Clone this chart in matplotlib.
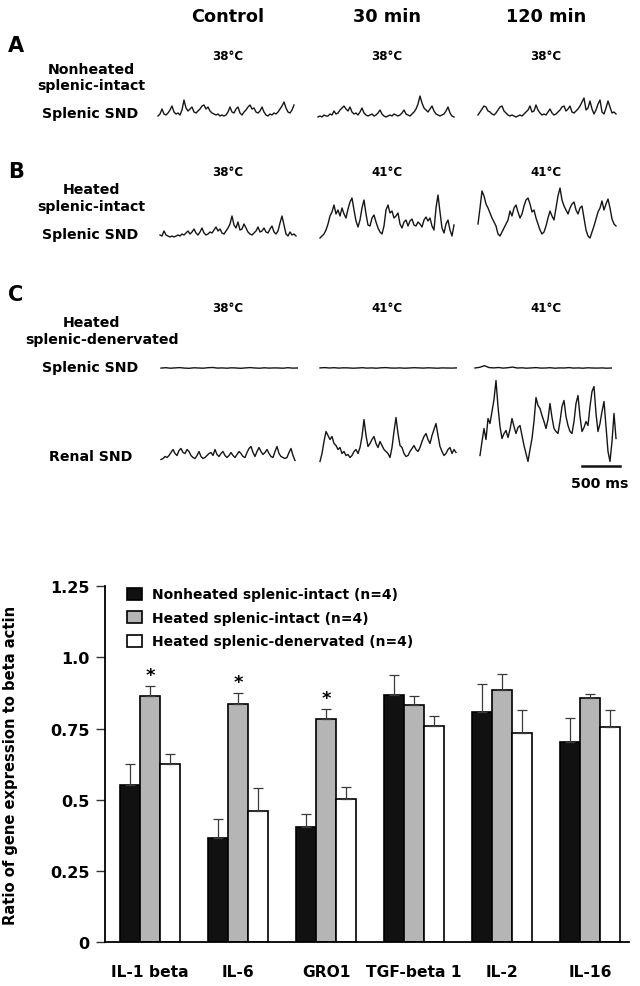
import numpy as np
import matplotlib
matplotlib.use("Agg")
import matplotlib.pyplot as plt
from matplotlib.patches import Patch
from matplotlib.lines import Line2D

plt.rcParams['font.family'] = ['DejaVu Sans']
plt.rcParams['font.weight'] = 'bold'

# ---- bar chart data ----
genes = ["IL-1 beta", "IL-6", "GRO1", "TGF-beta 1", "IL-2", "IL-16"]
groups = ["Nonheated splenic-intact (n=4)",
          "Heated splenic-intact (n=4)",
          "Heated splenic-denervated (n=4)"]
nonheated_mean = [0.551, 0.367, 0.403, 0.867, 0.807, 0.704]
nonheated_sem = [0.076, 0.067, 0.048, 0.071, 0.100, 0.083]
heated_mean = [0.865, 0.838, 0.782, 0.834, 0.884, 0.858]
heated_sem = [0.035, 0.037, 0.036, 0.030, 0.059, 0.014]
denerv_mean = [0.625, 0.460, 0.502, 0.759, 0.736, 0.755]
denerv_sem = [0.036, 0.081, 0.044, 0.036, 0.078, 0.059]
significant = [True, True, True, False, False, False]
yticks = [0, 0.25, 0.5, 0.75, 1.0, 1.25]
ytick_labels = ["0", "0.25", "0.5", "0.75", "1.0", "1.25"]

# ---- nerve traces (height above baseline, read every ~2 px) ----
columns = ["Control", "30 min", "120 min"]
temps_a = ["38°C", "38°C", "38°C"]
temps_b = ["38°C", "41°C", "41°C"]
temps_c = ["38°C", "41°C", "41°C"]

a_control = [2, 4, 9, 4, 3, 5, 8, 12, 6, 4, 5, 3, 8, 18, 10, 7, 9, 11, 6, 5, 7, 9, 12, 13, 9, 11, 7, 5, 4, 3,
             4, 2, 3, 2, 3, 6, 11, 6, 5, 9, 11, 5, 3, 6, 8, 11, 13, 9, 10, 6, 5, 7, 11, 6, 3, 2, 4, 3, 5, 4,
             6, 9, 12, 16, 10, 6, 5, 8, 13]
a_30 = [1, 2, 1, 3, 2, 2, 4, 3, 7, 4, 5, 8, 10, 12, 9, 7, 11, 6, 4, 5, 3, 6, 10, 5, 3, 2, 3, 4, 2, 3,
        5, 8, 4, 2, 1, 2, 3, 2, 4, 3, 2, 3, 5, 8, 4, 3, 2, 4, 6, 9, 14, 22, 15, 10, 8, 6, 9, 12, 7, 4,
        3, 2, 3, 4, 7, 11, 5, 2, 1]
a_120 = [3, 6, 9, 12, 11, 7, 6, 4, 3, 5, 8, 11, 12, 7, 5, 3, 2, 3, 2, 1, 2, 3, 2, 4, 6, 8, 12, 6, 7, 13,
         8, 5, 3, 4, 3, 6, 9, 5, 3, 4, 6, 8, 11, 12, 7, 9, 12, 6, 5, 7, 9, 12, 16, 20, 8, 10, 17, 9, 4, 8,
         14, 18, 6, 4, 10, 17, 11, 5, 6, 4]

b_control = [3, 2, 7, 3, 2, 1, 2, 1, 2, 3, 2, 4, 3, 5, 7, 4, 6, 9, 5, 3, 6, 10, 5, 3, 4, 6, 5, 8, 11, 7,
             9, 5, 4, 7, 10, 14, 22, 13, 10, 16, 8, 9, 14, 10, 6, 4, 3, 5, 7, 11, 6, 7, 10, 6, 5, 9, 12, 6, 4, 7,
             15, 22, 13, 4, 2, 6, 3, 4, 2]
b_30 = [0, 2, 4, 8, 14, 22, 26, 33, 24, 28, 22, 30, 24, 20, 29, 36, 40, 28, 17, 11, 18, 30, 38, 24, 13, 12,
        20, 23, 16, 10, 6, 4, 12, 28, 33, 25, 27, 20, 22, 25, 14, 10, 16, 18, 12, 17, 19, 13, 12, 16, 14, 11,
        18, 21, 17, 20, 12, 8, 30, 43, 26, 10, 5, 14, 18, 8, 2, 13]
b_120 = [14, 30, 47, 42, 34, 30, 25, 20, 16, 12, 4, 2, 6, 10, 14, 18, 27, 22, 30, 33, 26, 20, 24, 32, 38,
         40, 34, 26, 28, 20, 14, 8, 4, 6, 12, 20, 27, 22, 18, 30, 42, 50, 38, 32, 28, 24, 30, 34, 36, 28,
         24, 30, 32, 20, 8, 2, 0, 6, 12, 19, 26, 30, 37, 28, 34, 39, 30, 19, 14, 12]

c_spl_control = [0.4, 0.8, 0.3, 0.6, 0.9, 0.4, 0.2, 0.7, 0.5, 0.3, 0.8, 1.0, 0.4, 0.6, 0.3, 0.7, 0.5,
                 0.2, 0.6, 0.9, 0.5, 0.3, 0.7, 0.4, 0.6, 0.5, 0.3, 0.8, 0.4, 0.5]
c_spl_30 = [0.6, 0.9, 0.5, 0.8, 0.4, 0.7, 0.6, 0.3, 0.5, 0.8, 0.4, 0.6, 0.3, 0.7, 0.9, 0.5, 0.4, 0.6,
            0.3, 0.5, 0.8, 0.6, 0.4, 0.7, 0.5, 0.3, 0.6, 0.5, 0.4, 0.6]
c_spl_120 = [0.5, 1.2, 2.8, 0.9, 0.6, 1.0, 0.4, 0.8, 1.4, 0.5, 0.7, 0.3, 0.6, 0.9, 0.4, 0.5, 0.8, 0.3,
             0.6, 0.5, 0.9, 0.4, 0.6, 0.3, 0.7, 0.5, 0.4, 0.6, 0.3, 0.5]

c_ren_control = [2, 3, 5, 4, 6, 9, 12, 8, 6, 11, 13, 9, 8, 12, 10, 6, 4, 3, 6, 10, 5, 3, 4, 6, 8, 9, 6, 12,
                 7, 5, 8, 10, 6, 4, 6, 9, 6, 4, 7, 10, 8, 5, 4, 9, 13, 15, 9, 5, 10, 14, 10, 7, 9, 12, 8, 5,
                 4, 10, 15, 8, 5, 4, 3, 4, 9, 13, 6, 1]
c_ren_30 = [0, 8, 20, 30, 26, 22, 25, 18, 16, 12, 14, 8, 10, 6, 7, 4, 6, 10, 12, 8, 14, 25, 42, 26, 15, 18,
            22, 25, 18, 14, 20, 16, 12, 10, 8, 4, 14, 30, 44, 28, 16, 14, 8, 5, 6, 10, 13, 16, 12, 10, 14,
            20, 25, 28, 22, 18, 26, 32, 38, 26, 15, 10, 6, 8, 12, 14, 8, 12, 9]
c_ren_120 = [6, 20, 33, 22, 43, 38, 50, 62, 81, 55, 35, 23, 28, 31, 24, 32, 43, 35, 28, 34, 36, 26, 16, 8,
             0, 12, 23, 40, 64, 56, 53, 46, 40, 33, 42, 58, 44, 33, 30, 28, 40, 55, 61, 45, 36, 30, 28, 40,
             58, 66, 45, 30, 34, 40, 36, 55, 70, 75, 48, 30, 38, 50, 60, 35, 10, 0, 20, 48, 23]

W, H = 640, 987
fig = plt.figure(figsize=(6.4, 9.87), dpi=100)


def fx(px):
    return px / W


def fy(py):
    return 1 - py / H


def label(x, y, s, size, **kw):
    fig.text(fx(x), fy(y), s, ha='center', va='center', fontsize=size, fontweight='bold', **kw)


def trace(x0, base, vals, step=2.0, span=90):
    """Small frameless axes, 1 data unit = 1 pixel."""
    n = len(vals)
    width = step * (n - 1)
    ax = fig.add_axes([fx(x0), fy(base), width / W, span / H])
    ax.plot(np.arange(n), vals, color='#151515', lw=1.0, clip_on=False)
    ax.set_xlim(0, n - 1)
    ax.set_ylim(0, span)
    ax.axis('off')
    return ax


# ---- top panels ----
col_x = [228, 387, 546]
for cx, name in zip(col_x, columns):
    label(cx, 17, name, 12.7)

label(16, 46, "A", 15)
label(16, 172, "B", 15)
label(16, 295, "C", 15)

for cx, t in zip(col_x, temps_a):
    label(cx, 56, t, 8.6)
for cx, t in zip(col_x, temps_b):
    label(cx, 173, t, 8.6)
for cx, t in zip(col_x, temps_c):
    label(cx, 308, t, 8.6)

label(91, 70, "Nonheated", 10.2)
label(91, 86, "splenic-intact", 10.2)
label(90, 114, "Splenic SND", 10.2)
label(91, 190, "Heated", 10.2)
label(91, 207, "splenic-intact", 10.2)
label(90, 235, "Splenic SND", 10.2)
label(91, 323, "Heated", 10.2)
label(102, 340, "splenic-denervated", 10.2)
label(90, 368, "Splenic SND", 10.2)
label(91, 457, "Renal SND", 10.2)

trace(158, 119, a_control)
trace(318, 119, a_30)
trace(478, 119, a_120)

trace(160, 239, b_control)
trace(320, 239, b_30)
trace(478, 239, b_120)

trace(161, 369.5, c_spl_control, step=4.7)
trace(320, 369.5, c_spl_30, step=4.7)
trace(475, 369.5, c_spl_120, step=4.7)

trace(161, 462.5, c_ren_control)
trace(320, 462.5, c_ren_30)
trace(480, 462.5, c_ren_120)

fig.add_artist(Line2D([fx(582), fx(620)], [fy(467), fy(467)], color='#111111', lw=1.8))
label(600, 484, "500 ms", 10.2)

# ---- bar chart ----
ax = fig.add_axes([fx(105.3), fy(943), (629 - 105.3) / W, (943 - 587.3) / H])
x = np.arange(len(genes))
w = 0.2275
err_kw = dict(fmt='none', ecolor='#3a3a3a', elinewidth=0.9, capsize=3.8, capthick=0.9)
ax.bar(x - w, nonheated_mean, w, color='#111111', edgecolor='black', linewidth=1.2)
ax.bar(x, heated_mean, w, color='#b5b5b5', edgecolor='black', linewidth=1.2)
ax.bar(x + w, denerv_mean, w, color='white', edgecolor='black', linewidth=1.2)
ax.errorbar(x - w, nonheated_mean, yerr=[np.zeros(6), nonheated_sem], **err_kw)
ax.errorbar(x, heated_mean, yerr=[np.zeros(6), heated_sem], **err_kw)
ax.errorbar(x + w, denerv_mean, yerr=[np.zeros(6), denerv_sem], **err_kw)

for i, sig in enumerate(significant):
    if sig:
        ax.text(x[i], heated_mean[i] + heated_sem[i] + 0.008, "*", ha='center', va='bottom',
                fontsize=13, fontweight='bold')

ax.set_xlim(-0.51, 5.44)
ax.set_ylim(0, 1.25)
ax.set_yticks(yticks)
ax.set_yticklabels(ytick_labels, fontsize=11.5, fontweight='bold')
ax.set_xticks(x)
ax.set_xticklabels(genes, fontsize=11.2, fontweight='bold')
ax.tick_params(axis='x', length=0, pad=16)
ax.tick_params(axis='y', length=6.5, width=1.0, pad=5, color='#333333')
for side in ['top', 'right']:
    ax.spines[side].set_visible(False)
ax.spines['left'].set_linewidth(1.3)
ax.spines['bottom'].set_linewidth(1.3)
ax.set_ylabel("Ratio of gene expression to beta actin", fontsize=10.6, fontweight='bold')
ax.yaxis.set_label_coords(-0.167, 0.5)

handles = [Patch(facecolor='#111111', edgecolor='black', linewidth=1.2),
           Patch(facecolor='#b5b5b5', edgecolor='black', linewidth=1.2),
           Patch(facecolor='white', edgecolor='black', linewidth=1.2)]
leg = ax.legend(handles, groups, loc='upper left', bbox_to_anchor=(fx(126.5), fy(588.5)),
                bbox_transform=fig.transFigure, frameon=False, fontsize=10,
                handlelength=1.15, handleheight=0.95, handletextpad=0.72,
                labelspacing=0.68, borderpad=0, borderaxespad=0)

fig.savefig("out.png", dpi=100)
